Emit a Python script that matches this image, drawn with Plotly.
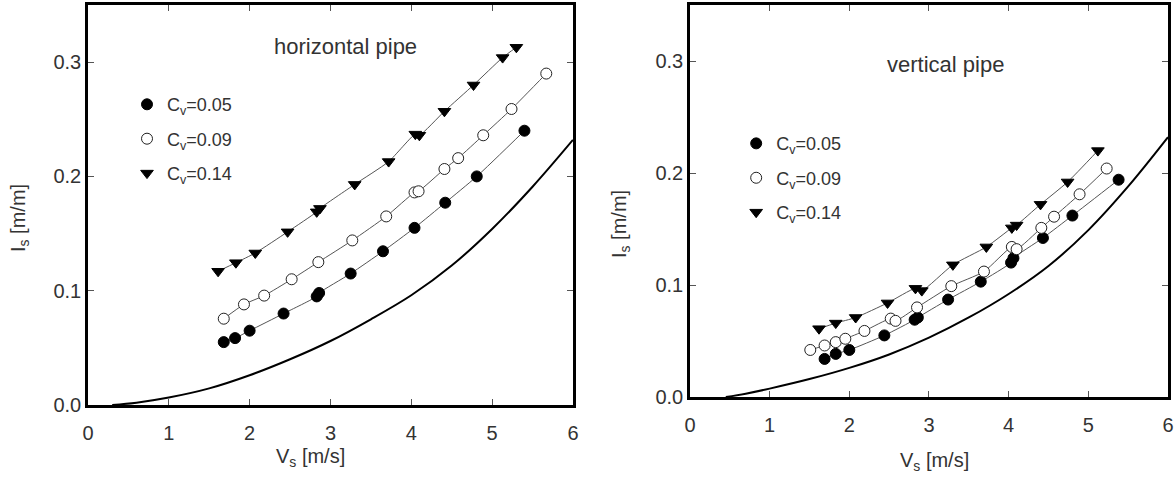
import plotly.graph_objects as go

# ---------------- data: horizontal pipe ----------------
h05_x = [1.68, 1.82, 2.00, 2.42, 2.83, 2.86, 3.25, 3.65, 4.04, 4.42, 4.81, 5.40]
h05_y = [0.055, 0.0585, 0.065, 0.080, 0.095, 0.098, 0.115, 0.1345, 0.155, 0.177, 0.200, 0.240]
h09_x = [1.68, 1.93, 2.18, 2.52, 2.85, 3.27, 3.69, 4.04, 4.09, 4.41, 4.58, 4.89, 5.24, 5.67]
h09_y = [0.0755, 0.088, 0.0957, 0.110, 0.125, 0.144, 0.165, 0.186, 0.187, 0.2065, 0.216, 0.236, 0.259, 0.290]
h14_x = [1.61, 1.83, 2.07, 2.47, 2.83, 2.87, 3.30, 3.72, 4.05, 4.10, 4.41, 4.77, 5.13, 5.30]
h14_y = [0.117, 0.1245, 0.133, 0.1515, 0.169, 0.172, 0.193, 0.213, 0.237, 0.236, 0.257, 0.280, 0.304, 0.313]
hc_x = [0.3, 0.6, 1.0, 1.5, 2.0, 2.5, 3.0, 3.5, 4.0, 4.5, 5.0, 5.5, 6.0]
hc_y = [0.0, 0.002, 0.0065, 0.0145, 0.026, 0.040, 0.056, 0.075, 0.096, 0.122, 0.154, 0.191, 0.232]

# ---------------- data: vertical pipe ----------------
v05_x = [1.69, 1.83, 2.00, 2.44, 2.82, 2.86, 3.24, 3.65, 4.03, 4.06, 4.43, 4.80, 5.38]
v05_y = [0.034, 0.0385, 0.042, 0.055, 0.069, 0.071, 0.087, 0.103, 0.120, 0.124, 0.142, 0.162, 0.194]
v09_x = [1.51, 1.69, 1.83, 1.95, 2.19, 2.52, 2.58, 2.85, 3.28, 3.69, 4.04, 4.10, 4.41, 4.57, 4.89, 5.23]
v09_y = [0.042, 0.046, 0.049, 0.052, 0.059, 0.070, 0.068, 0.080, 0.099, 0.112, 0.134, 0.132, 0.151, 0.161, 0.181, 0.204]
v14_x = [1.62, 1.83, 2.08, 2.48, 2.83, 2.91, 3.30, 3.72, 4.04, 4.10, 4.40, 4.74, 5.12]
v14_y = [0.061, 0.066, 0.071, 0.084, 0.097, 0.095, 0.118, 0.134, 0.151, 0.1535, 0.172, 0.192, 0.220]
vc_x = [0.45, 0.7, 1.0, 1.5, 2.0, 2.5, 3.0, 3.5, 4.0, 4.5, 5.0, 5.5, 6.0]
vc_y = [0.0, 0.003, 0.0075, 0.016, 0.026, 0.038, 0.053, 0.071, 0.092, 0.117, 0.149, 0.188, 0.232]

labels = ["C<sub>v</sub>=0.05", "C<sub>v</sub>=0.09", "C<sub>v</sub>=0.14"]
titles = ["horizontal pipe", "vertical pipe"]

FONT = "Liberation Sans, Arial, sans-serif"
TXT = "#333333"

fig = go.Figure()

marker_styles = [
    dict(symbol="circle", size=11, color="black", line=dict(color="black", width=1)),
    dict(symbol="circle", size=11, color="white", line=dict(color="#222222", width=1)),
    dict(symbol="triangle-down", size=11, color="black", line=dict(color="black", width=1)),
]

panels = [
    ("x", "y", "legend", [(h05_x, h05_y), (h09_x, h09_y), (h14_x, h14_y)], (hc_x, hc_y)),
    ("x2", "y2", "legend2", [(v05_x, v05_y), (v09_x, v09_y), (v14_x, v14_y)], (vc_x, vc_y)),
]

for xa, ya, lg, series, curve in panels:
    fig.add_trace(go.Scatter(x=curve[0], y=curve[1], mode="lines", xaxis=xa, yaxis=ya,
                             line=dict(color="black", width=2, shape="spline"),
                             showlegend=False, hoverinfo="skip"))
    for (sx, sy) in series:
        fig.add_trace(go.Scatter(x=sx, y=sy, mode="lines", xaxis=xa, yaxis=ya,
                                 line=dict(color="#555555", width=1, shape="spline", smoothing=0.6),
                                 showlegend=False, hoverinfo="skip"))
    for i, (sx, sy) in enumerate(series):
        fig.add_trace(go.Scatter(x=sx, y=sy, mode="markers", xaxis=xa, yaxis=ya,
                                 marker=marker_styles[i], name=labels[i], legend=lg,
                                 legendgroup=lg + str(i), showlegend=True))

axis_common = dict(
    showline=True, linewidth=2.5, linecolor="black", mirror="ticks",
    ticks="inside", ticklen=6, tickwidth=1, tickcolor="#555555",
    showgrid=False, zeroline=False,
    tickfont=dict(family=FONT, size=20, color=TXT),
    automargin=False,
)

fig.update_layout(
    width=1176, height=477,
    margin=dict(l=0, r=0, t=0, b=0),
    paper_bgcolor="white", plot_bgcolor="white",
    xaxis=dict(domain=[0.0748, 0.4872], range=[0, 6], dtick=1, anchor="y",
               ticklabelstandoff=8, **axis_common),
    yaxis=dict(domain=[0.151, 0.9895], range=[0, 0.35], dtick=0.1, tickformat=".1f", anchor="x", **axis_common),
    xaxis2=dict(domain=[0.5867, 0.9932], range=[0, 6], dtick=1, anchor="y2",
                ticklabelstandoff=8, **axis_common),
    yaxis2=dict(domain=[0.1677, 0.9895], range=[0, 0.35], dtick=0.1, tickformat=".1f", anchor="x2", **axis_common),
    legend=dict(x=0.108, y=0.8195, xanchor="left", yanchor="top", bgcolor="rgba(0,0,0,0)",
                traceorder="grouped", tracegroupgap=8,
                font=dict(family=FONT, size=18, color=TXT)),
    legend2=dict(x=0.626, y=0.7376, xanchor="left", yanchor="top", bgcolor="rgba(0,0,0,0)",
                 traceorder="grouped", tracegroupgap=8,
                 font=dict(family=FONT, size=18, color=TXT)),
    showlegend=True,
)

ann_font = dict(family=FONT, size=20, color=TXT)
fig.add_annotation(text=titles[0], x=3.19, y=0.3135, xref="x", yref="y", showarrow=False,
                   xanchor="center", yanchor="middle",
                   font=dict(family=FONT, size=22, color=TXT))
fig.add_annotation(text=titles[1], x=3.21, y=0.297, xref="x2", yref="y2", showarrow=False,
                   xanchor="center", yanchor="middle",
                   font=dict(family=FONT, size=22, color=TXT))
fig.add_annotation(text="V<sub>s</sub> [m/s]", x=310 / 1176, y=1 - 457 / 477, xref="paper", yref="paper",
                   xanchor="center", yanchor="middle", showarrow=False, font=ann_font)
fig.add_annotation(text="V<sub>s</sub> [m/s]", x=934 / 1176, y=1 - 461 / 477, xref="paper", yref="paper",
                   xanchor="center", yanchor="middle", showarrow=False, font=ann_font)
fig.add_annotation(text="I<sub>s</sub> [m/m]", x=19 / 1176, y=1 - 218 / 477, xref="paper", yref="paper",
                   xanchor="center", yanchor="middle", showarrow=False, textangle=-90, font=ann_font)
fig.add_annotation(text="I<sub>s</sub> [m/m]", x=621 / 1176, y=1 - 224 / 477, xref="paper", yref="paper",
                   xanchor="center", yanchor="middle", showarrow=False, textangle=-90, font=ann_font)

fig.write_html("out.html")
